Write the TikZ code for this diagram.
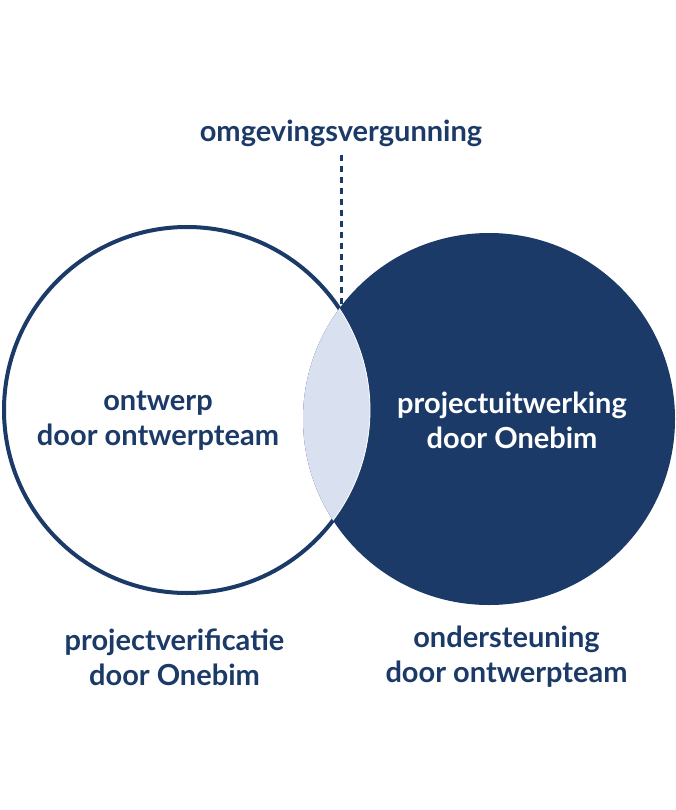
\documentclass[tikz,border=0pt]{standalone}
\usepackage{fontspec}
\setmainfont{Lato}[BoldFont={* Bold}]
\usepackage{tikz}
\usetikzlibrary{calc}
\definecolor{navy}{RGB}{27,58,104}
\definecolor{lens}{RGB}{217,225,241}

\begin{document}
\begin{tikzpicture}[x=1pt, y=-1pt,
		label/.style={font=\fontsize{29}{35}\selectfont\bfseries, text=navy, align=center, inner sep=0pt},
		inlabel/.style={label, text=white},
		dashline/.style={navy, line width=3pt, dash pattern=on 6pt off 5pt}]
		%%%%% START %%%%%
		
		\useasboundingbox[fill=white] (0, 0) rectangle (675, 810);
		
		\coordinate (left) at (187, 410);
		\coordinate (right) at (489, 419);
		\coordinate (lenstop) at (341, 308);
		
		\draw[navy, fill=white, line width=4pt] (left) circle (183pt);
		\fill[navy] (right) circle (186pt);
		\begin{scope}
			\clip (left) circle (183pt);
			\fill[lens] (right) circle (186pt);
		\end{scope}
		\begin{scope}
			\clip (right) circle (186pt);
			\draw[white, line width=0.8pt] (left) circle (183pt);
		\end{scope}
		
		\node[label] (permit) at (341, 133) {omgevingsvergunning};
		\draw[dashline, shorten <=8pt] (permit.south) -- (lenstop);
		
		\node[label] (design) at (158, 421) {ontwerp\\door ontwerpteam};
		\node[inlabel] (elaboration) at (512, 420) {projectuitwerking\\door Onebim};
		
		\node[label] (verification) at (174.5, 657) {projectverificatie\\door Onebim};
		\node[label] (support) at (506.5, 657) {ondersteuning\\door ontwerpteam};
		
		%%%%% END %%%%%
\end{tikzpicture}
\end{document}
